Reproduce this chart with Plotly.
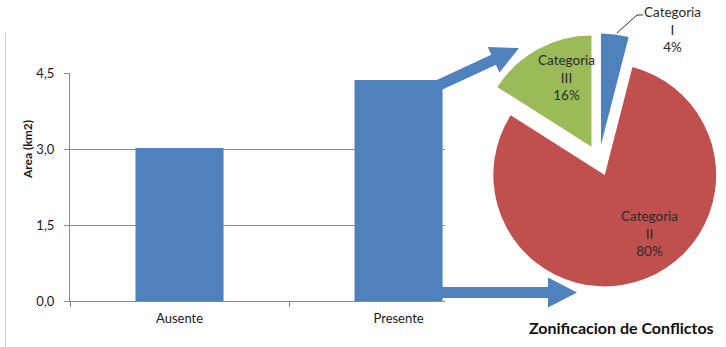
import plotly.graph_objects as go

# --- data -------------------------------------------------------------
bar_categories = ["Ausente", "Presente"]
bar_values = [3.02, 4.36]
y_ticks = [0.0, 1.5, 3.0, 4.5]

pie_labels = ["Categoria<br>I", "Categoria<br>II", "Categoria<br>III"]
pie_values = [4, 80, 16]
pie_colors = ["#4F81BD", "#C0504D", "#9BBB59"]

W, H = 726, 347
FONT = "Lato, Calibri, Open Sans, sans-serif"
BLUE = "#4F81BD"
GRID = "#8a8a8a"
TEXT = "#2b2b2b"


def px(x):
    return x / W


def py(y):
    return (H - y) / H


def arrow_path(x0, y0, x1, y1, half_shaft, head_len, half_head):
    """Closed SVG path for a block arrow from (x0,y0) to tip (x1,y1), pixel units."""
    dx, dy = x1 - x0, y1 - y0
    length = (dx * dx + dy * dy) ** 0.5
    ux, uy = dx / length, dy / length
    nx, ny = -uy, ux
    bx, by = x1 - ux * head_len, y1 - uy * head_len
    pts = [
        (x0 + nx * half_shaft, y0 + ny * half_shaft),
        (bx + nx * half_shaft, by + ny * half_shaft),
        (bx + nx * half_head, by + ny * half_head),
        (x1, y1),
        (bx - nx * half_head, by - ny * half_head),
        (bx - nx * half_shaft, by - ny * half_shaft),
        (x0 - nx * half_shaft, y0 - ny * half_shaft),
    ]
    return "M " + " L ".join(f"{px(a):.5f},{py(b):.5f}" for a, b in pts) + " Z"


fig = go.Figure()

fig.add_trace(go.Bar(
    x=bar_categories,
    y=bar_values,
    marker=dict(color=BLUE, line=dict(width=0)),
    hoverinfo="skip",
    showlegend=False,
))

fig.add_trace(go.Pie(
    labels=pie_labels,
    values=pie_values,
    marker=dict(colors=pie_colors, line=dict(width=0)),
    sort=False,
    direction="clockwise",
    rotation=0,
    pull=0.14,
    textinfo="none",
    hoverinfo="skip",
    showlegend=False,
    domain=dict(x=[px(472), 1.0], y=[py(287.5), py(33.5)]),
))

# slice labels, text built from the pie values
total = sum(pie_values)
label_pos = [(672, 30), (649, 233), (566, 77)]
annotations = []
for lab, val, (lx, ly) in zip(pie_labels, pie_values, label_pos):
    annotations.append(dict(
        x=px(lx), y=py(ly), xref="paper", yref="paper",
        text=f"{lab}<br>{round(100 * val / total)}%",
        showarrow=False, xanchor="center", yanchor="middle",
        font=dict(family=FONT, size=13.5, color=TEXT),
    ))

annotations.append(dict(
    x=px(27), y=py(150), xref="paper", yref="paper",
    text="<b>Area (km2)</b>", textangle=-90, showarrow=False,
    xanchor="center", yanchor="middle",
    font=dict(family=FONT, size=12, color="#1a1a1a"),
))
annotations.append(dict(
    x=px(621), y=py(327), xref="paper", yref="paper",
    text="<b>Zonificacion de Conflictos</b>", showarrow=False,
    xanchor="center", yanchor="middle",
    font=dict(family=FONT, size=16, color="#111111"),
))

shapes = [
    # frame edge on the left
    dict(type="line", xref="paper", yref="paper",
         x0=px(5.5), x1=px(5.5), y0=py(33), y1=0,
         line=dict(color="#c9d6e4", width=1)),
    # leader line for the smallest slice
    dict(type="path", xref="paper", yref="paper",
         path=f"M {px(617):.5f},{py(33):.5f} L {px(637):.5f},{py(15):.5f} L {px(643):.5f},{py(15):.5f}",
         line=dict(color="#333333", width=1)),
    # block arrows from the "Presente" bar towards the pie
    dict(type="path", xref="paper", yref="paper", layer="above",
         path=arrow_path(437, 86, 519, 48, 5.5, 28, 14),
         fillcolor=BLUE, line=dict(width=0)),
    dict(type="path", xref="paper", yref="paper", layer="above",
         path=arrow_path(437, 292.5, 577, 292.5, 5.5, 29, 15),
         fillcolor=BLUE, line=dict(width=0)),
]

fig.update_layout(
    width=W, height=H,
    margin=dict(l=0, r=0, t=0, b=0, autoexpand=False),
    paper_bgcolor="white", plot_bgcolor="white",
    separators=",.",
    bargap=0.598,
    font=dict(family=FONT, size=13, color=TEXT),
    xaxis=dict(
        domain=[px(70), px(445)],
        type="category",
        range=[-0.5, 1.212],
        showline=True, linecolor=GRID, linewidth=1,
        ticks="outside", tickson="boundaries", ticklen=5, tickcolor=GRID,
        ticklabelstandoff=5,
        tickfont=dict(family=FONT, size=13, color="#1a1a1a"),
        showgrid=False, zeroline=False, fixedrange=True,
    ),
    yaxis=dict(
        domain=[py(301), py(73)],
        range=[0, 4.5],
        tickvals=y_ticks, tickformat=".1f",
        showline=True, linecolor=GRID, linewidth=1,
        ticks="outside", ticklen=5, tickcolor=GRID,
        ticklabelstandoff=7,
        tickfont=dict(family=FONT, size=13, color="#1a1a1a"),
        showgrid=True, gridcolor=GRID, gridwidth=1,
        zeroline=False, fixedrange=True,
    ),
    annotations=annotations,
    shapes=shapes,
)

fig.write_html("out.html")
